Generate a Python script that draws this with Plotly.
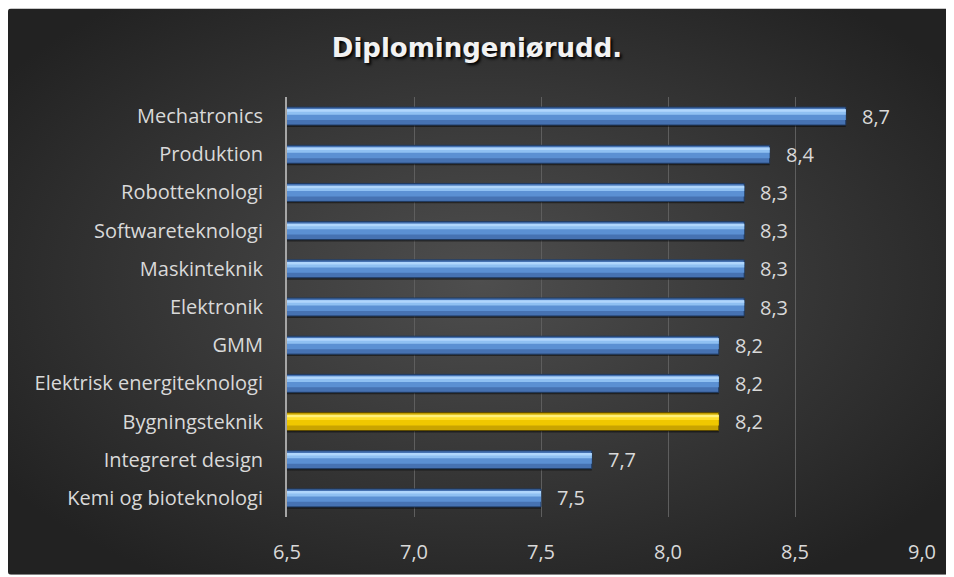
import base64
import plotly.graph_objects as go

# ─── Data ──────────────────────────────────────────────────────────────────────
categories = [
    "Kemi og bioteknologi", "Integreret design", "Bygningsteknik",
    "Elektrisk energiteknologi", "GMM", "Elektronik", "Maskinteknik",
    "Softwareteknologi", "Robotteknologi", "Produktion", "Mechatronics",
]
values = [7.5, 7.7, 8.2, 8.2, 8.2, 8.3, 8.3, 8.3, 8.3, 8.4, 8.7]
highlight = "Bygningsteknik"
x_ticks = [6.5, 7.0, 7.5, 8.0, 8.5, 9.0]
title = "Diplomingeniørudd."

# ─── Styling ───────────────────────────────────────────────────────────────────
# the page body adds an 8px margin, so the figure is drawn 8px smaller
PAGE = 8
W, H = 954 - PAGE, 577 - PAGE
M = dict(l=287 - PAGE, r=32, t=97 - PAGE, b=58)
FONT = "'Open Sans', sans-serif"
TXT = "#d9d9d9"

BLUE = dict(base="#4672b2", mid="#5b90d3", light="#8fc0f2", top="#b0d6fc", edge="#1f3a60")
GOLD = dict(base="#c9a400", mid="#f0c800", light="#ffdf2a", top="#fff07a", edge="#5e4c00")


def pal(key):
    return [(GOLD if c == highlight else BLUE)[key] for c in categories]


# radial gradient background as an inline svg
svg = f"""<svg xmlns='http://www.w3.org/2000/svg' width='{W}' height='{H}'>
<defs><radialGradient id='g' cx='50%' cy='48%' r='62%'>
<stop offset='0%' stop-color='#4e4e4e'/><stop offset='100%' stop-color='#222222'/>
</radialGradient></defs>
<rect x='0' y='0' width='{W}' height='{H}' rx='3' fill='url(#g)'/></svg>"""
bg_src = "data:image/svg+xml;base64," + base64.b64encode(svg.encode()).decode()

pw = W - M["l"] - M["r"]
ph = H - M["t"] - M["b"]

BW = 0.47  # bar thickness in category units
fig = go.Figure()

# drop shadow, body, and bevel highlight layers
layers = [
    (["rgba(0,0,0,0.45)"] * len(categories), -BW / 2 - 0.05, BW, None),
    (pal("base"), -BW / 2, BW, pal("edge")),
    (pal("mid"), -BW / 2 + BW * 0.28, BW * 0.5, None),
    (pal("light"), -BW / 2 + BW * 0.58, BW * 0.3, None),
    (pal("top"), BW / 2 - BW * 0.26, BW * 0.14, None),
]
for colors, off, wd, edge in layers:
    fig.add_trace(go.Bar(
        x=values, y=categories, orientation="h",
        offset=off, width=wd,
        marker=dict(color=colors,
                    line=dict(color=edge, width=1) if edge else dict(width=0)),
        hoverinfo="skip", showlegend=False,
    ))

for c, v in zip(categories, values):
    fig.add_annotation(
        x=v, y=c, text=f"{v:.1f}".replace(".", ","),
        xanchor="left", xshift=14, showarrow=False,
        font=dict(family=FONT, size=20, color=TXT),
    )

fig.update_layout(
    width=W, height=H,
    margin=M,
    barmode="overlay",
    separators=", ",
    paper_bgcolor="white",
    plot_bgcolor="rgba(0,0,0,0)",
    font=dict(family=FONT, color=TXT),
    title=dict(
        text=title, x=(477 - PAGE) / W, xref="container", xanchor="center",
        y=1 - (48 - PAGE) / H, yref="container", yanchor="middle",
        font=dict(family="'DejaVu Sans', sans-serif", size=26, weight="bold",
                  color="#f2f2f2", shadow="2px 2px 3px #000000"),
    ),
    images=[dict(
        source=bg_src, xref="paper", yref="paper",
        x=-M["l"] / pw, y=1 + M["t"] / ph,
        sizex=W / pw, sizey=H / ph,
        xanchor="left", yanchor="top", sizing="stretch", layer="below",
    )],
    xaxis=dict(
        range=[6.5, 9.0], tickvals=x_ticks, tickformat=".1f",
        showgrid=True, gridcolor="#5e5e5e", gridwidth=1,
        zeroline=False, showline=False,
        ticks="outside", ticklen=17, tickcolor="rgba(0,0,0,0)",
        tickfont=dict(family=FONT, size=20, color=TXT),
    ),
    yaxis=dict(
        categoryorder="array", categoryarray=categories,
        showgrid=False, zeroline=False,
        showline=True, linecolor="#a6a6a6", linewidth=2,
        ticks="outside", ticklen=18, tickcolor="rgba(0,0,0,0)",
        tickfont=dict(family=FONT, size=20, color=TXT),
    ),
)

fig.write_html("out.html")
